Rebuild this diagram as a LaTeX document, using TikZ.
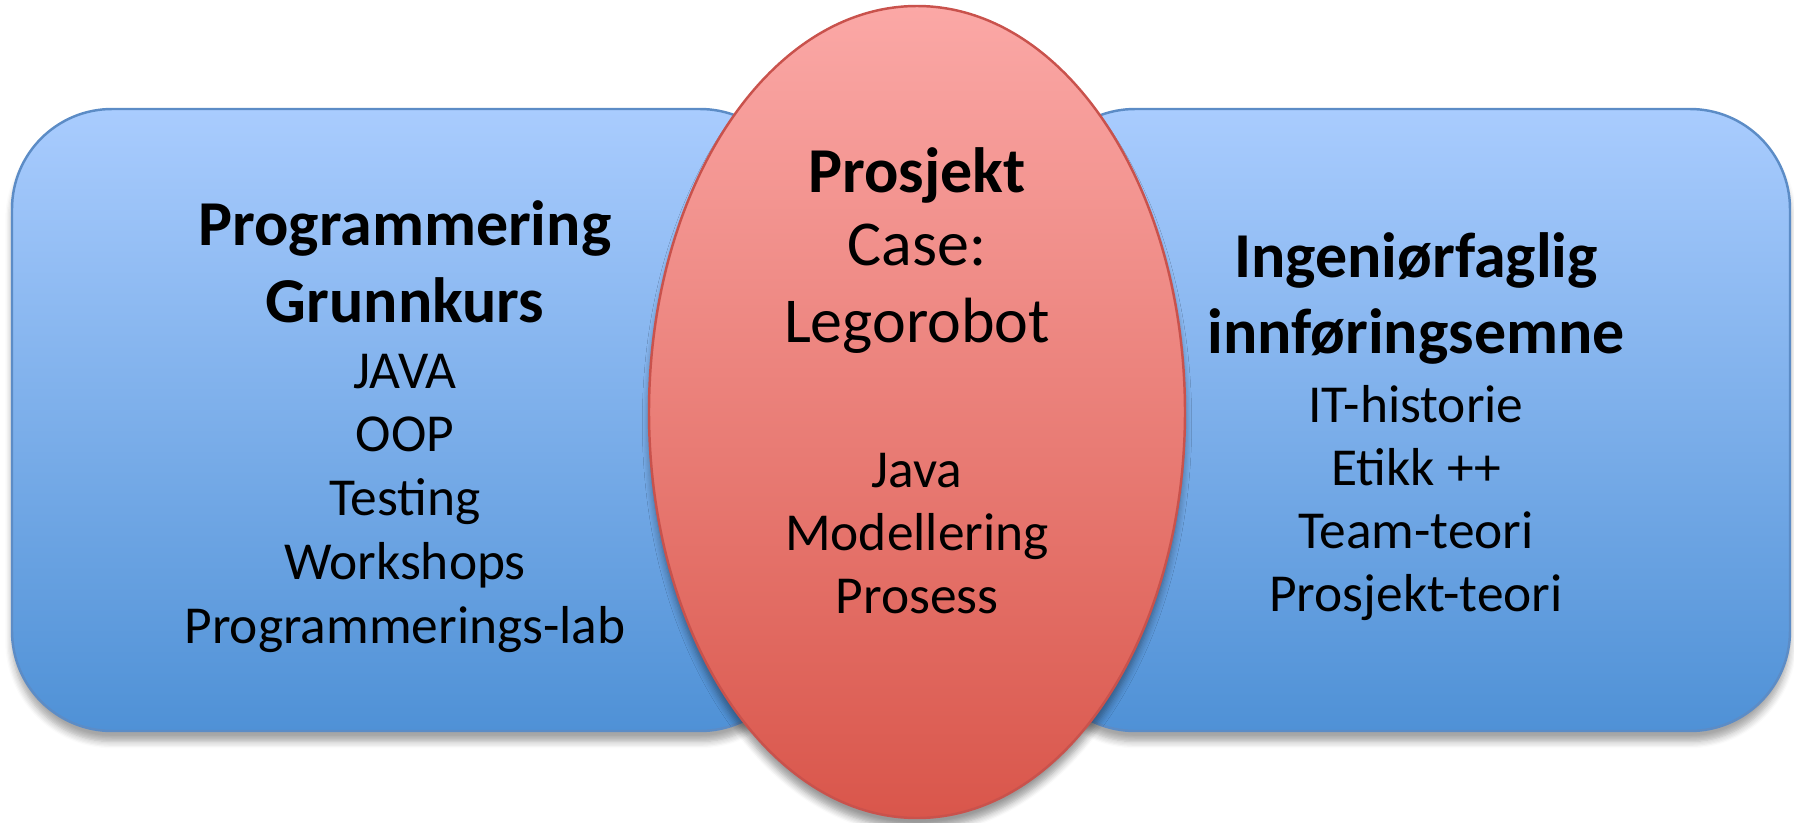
\documentclass[tikz,border=0pt]{standalone}
\usepackage{fontspec}
\setmainfont{Carlito}
\usepackage{xcolor}
\usepackage{tikz}
\usetikzlibrary{shadows.blur}

\definecolor{boxtop}{RGB}{169,204,254}
\definecolor{boxbot}{RGB}{79,145,214}
\definecolor{boxline}{RGB}{92,140,198}
\definecolor{ovaltop}{RGB}{251,168,166}
\definecolor{ovalbot}{RGB}{217,86,75}
\definecolor{ovalline}{RGB}{201,82,76}

\begin{document}
\begin{tikzpicture}[
  course/.style={top color=boxtop, bottom color=boxbot, draw=boxline,
    line width=0.7pt, rounded corners=1cm,
    blur shadow={shadow xshift=0pt, shadow yshift=-3pt,
      shadow blur steps=6, shadow opacity=35}},
  oval/.style={top color=ovaltop, bottom color=ovalbot, draw=ovalline,
    line width=0.7pt,
    blur shadow={shadow xshift=0pt, shadow yshift=-3pt,
      shadow blur steps=6, shadow opacity=40}},
  title/.style={anchor=base, font=\fontsize{18.2}{21}\selectfont\bfseries},
  big/.style={anchor=base, font=\fontsize{18.2}{21}\selectfont},
  item/.style={anchor=base, font=\fontsize{15.2}{18}\selectfont},
]
  \def\lx{4.05}
  \def\rx{14.16}
  \def\cx{9.17}
  \useasboundingbox (0,0) rectangle (17.94,-8.22);

  % the two courses
  \draw[course] (0.12,-1.09) rectangle (8.0,-7.31);
  \draw[course] (10.35,-1.09) rectangle (17.90,-7.31);

  % the project in the middle
  \draw[oval] (\cx,-4.12) ellipse [x radius=2.68, y radius=4.06];

  % left course
  \node[title] (prog) at (\lx,-2.45) {Programmering};
  \node[title] (grunn) at (\lx,-3.22) {Grunnkurs};
  \foreach \t [count=\i] in {JAVA, OOP, Testing, Workshops, Programmerings-lab}
    \node[item] (left\i) at (\lx, {-3.88-0.6375*(\i-1)}) {\t};

  % right course
  \node[title] (ing) at (\rx,-2.77) {Ingeniørfaglig};
  \node[title] (innf) at (\rx,-3.53) {innføringsemne};
  \foreach \t [count=\i] in {IT-historie, Etikk ++, Team-teori, Prosjekt-teori}
    \node[item] (right\i) at (\rx, {-4.22-0.633*(\i-1)}) {\t};

  % project
  \node[title] (proj) at (\cx,-1.92) {Prosjekt};
  \node[big] (case) at (\cx,-2.65) {Case:};
  \node[big] (lego) at (\cx,-3.42) {Legorobot};
  \foreach \t [count=\i] in {Java, Modellering, Prosess}
    \node[item] (mid\i) at (\cx, {-4.87-0.63*(\i-1)}) {\t};
\end{tikzpicture}
\end{document}
